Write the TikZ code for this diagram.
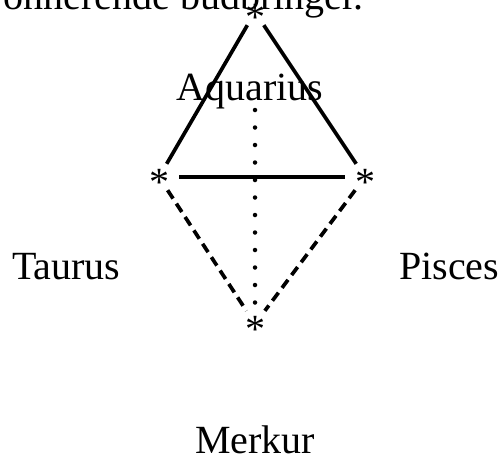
\documentclass[tikz,border=0pt]{standalone}
\usepackage{fontspec}
\setmainfont{Liberation Serif}
\begin{document}
\begin{tikzpicture}[x=1pt,y=-1pt,
  big/.style={font=\fontsize{40}{48}\selectfont},
  label/.style={big,inner sep=0pt},
  starnode/.style={big,rectangle,inner sep=0pt,minimum width=40pt,minimum height=26pt},
  solidline/.style={line width=3.7pt},
  dashline/.style={line width=3.7pt,dash pattern=on 10pt off 6pt},
  dotline/.style={line width=4.5pt,line cap=round,dash pattern=on 0pt off 17.5pt}]
\useasboundingbox (0,0) rectangle (502,456);
\newcommand{\astr}{\raisebox{-18.4pt}[9pt][9pt]{*}}
\node[label,anchor=base east] (title) at (364,9) {onnerende budbringer.};
\node[label,anchor=base] (aq) at (250,100) {Aquarius};
\node[label,anchor=base west] (ta) at (12,279) {Taurus};
\node[label,anchor=base west] (pi) at (399,279) {Pisces};
\node[label,anchor=base] (me) at (255,453) {Merkur};
\node[starnode] (T) at (255,12) {\astr};
\node[starnode] (L) at (159,177) {\astr};
\node[starnode] (R) at (365,177) {\astr};
\node[starnode] (B) at (255,324) {\astr};
\coordinate (dtop) at (255,110);
\draw[solidline] (T) -- (L);
\draw[solidline] (T) -- (R);
\draw[solidline] (L) -- (R);
\draw[dashline] (L) -- (B);
\draw[dashline] (R) -- (B);
\draw[dotline] (dtop) -- (B);
\end{tikzpicture}
\end{document}
